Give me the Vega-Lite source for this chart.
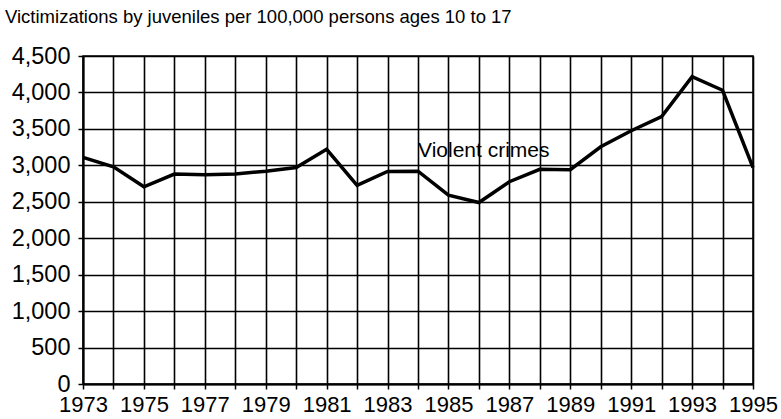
{
  "$schema": "https://vega.github.io/schema/vega-lite/v6.json",
  "width": 670,
  "height": 328,
  "autosize": {"type": "none"},
  "padding": {"left": 83, "top": 56, "right": 28, "bottom": 35},
  "background": "white",
  "title": {
    "text": "Victimizations by juveniles per 100,000 persons ages 10 to 17",
    "anchor": "start",
    "frame": "group",
    "dx": -78,
    "offset": 18,
    "font": "Liberation Sans",
    "fontSize": 18.5,
    "fontWeight": "normal",
    "color": "black"
  },
  "config": {
    "view": {"stroke": "black", "strokeWidth": 1.5},
    "axis": {
      "labelFont": "Liberation Sans",
      "labelFontSize": 22,
      "labelColor": "black",
      "gridColor": "black",
      "gridOpacity": 1,
      "gridWidth": 1.6,
      "domainColor": "black",
      "domainWidth": 2,
      "tickColor": "black",
      "tickWidth": 1.5,
      "tickSize": 5,
      "labelPadding": 6,
      "labelOverlap": false,
      "title": null
    }
  },
  "encoding": {
    "x": {
      "field": "year", "type": "quantitative",
      "scale": {"domain": [1973, 1995], "nice": false, "zero": false},
      "axis": {
        "values": [1973,1974,1975,1976,1977,1978,1979,1980,1981,1982,1983,1984,1985,1986,1987,1988,1989,1990,1991,1992,1993,1994,1995],
        "format": "d",
        "labelExpr": "(datum.value - 1973) % 2 == 0 ? datum.label : ''",
        "labelOverlap": false,
        "labelFlush": false,
        "labelPadding": 5
      }
    },
    "y": {
      "field": "rate", "type": "quantitative",
      "scale": {"domain": [0, 4500], "nice": false},
      "axis": {
        "values": [0,500,1000,1500,2000,2500,3000,3500,4000,4500],
        "format": ",d",
        "labelOverlap": false,
        "labelFontSize": 23.5,
        "labelPadding": 8
      }
    }
  },
  "layer": [
    {
      "data": {"values": [
        {"year": 1973, "rate": 3110},
        {"year": 1974, "rate": 2980},
        {"year": 1975, "rate": 2705},
        {"year": 1976, "rate": 2880},
        {"year": 1977, "rate": 2870},
        {"year": 1978, "rate": 2880},
        {"year": 1979, "rate": 2920},
        {"year": 1980, "rate": 2970},
        {"year": 1981, "rate": 3220},
        {"year": 1982, "rate": 2725},
        {"year": 1983, "rate": 2915},
        {"year": 1984, "rate": 2920},
        {"year": 1985, "rate": 2590},
        {"year": 1986, "rate": 2490},
        {"year": 1987, "rate": 2775},
        {"year": 1988, "rate": 2945},
        {"year": 1989, "rate": 2940},
        {"year": 1990, "rate": 3255},
        {"year": 1991, "rate": 3475},
        {"year": 1992, "rate": 3670},
        {"year": 1993, "rate": 4215},
        {"year": 1994, "rate": 4030},
        {"year": 1995, "rate": 2970}
      ]},
      "mark": {"type": "line", "color": "black", "strokeWidth": 3.5, "strokeJoin": "miter"}
    },
    {
      "data": {"values": [{"year": 1984, "rate": 3110, "label": "Violent crimes"}]},
      "mark": {"type": "text", "align": "left", "baseline": "alphabetic", "font": "Liberation Sans", "fontSize": 21, "color": "black", "letterSpacing": -0.5},
      "encoding": {
        "text": {"field": "label"}
      }
    }
  ]
}
